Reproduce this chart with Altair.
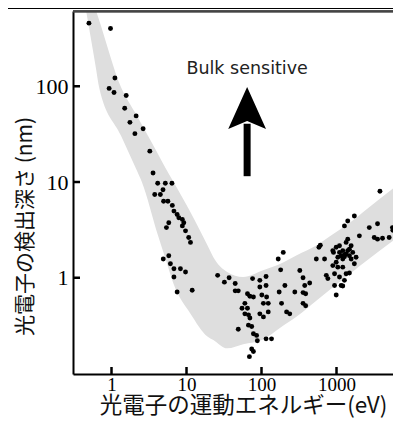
import altair as alt
import pandas as pd

# ---- data ----
energy = [0.50, 0.97, 1.11, 0.93, 1.08, 1.57, 1.50, 2.13, 1.76, 2.05, 2.64, 3.24, 3.58, 4.13, 5.22,
          6.39, 3.77, 4.48, 4.86, 4.95, 5.65, 6.47, 6.8, 7.5, 7.9, 8.8, 9.2, 8.8, 9.7, 5.8, 5.4,
          10.7, 11.3, 4.9, 5.8, 6.1, 6.8, 8.3, 9.7, 6.8, 7.5, 11.9,
          26, 32, 37, 44.6, 44.6, 49, 49, 65, 70, 78, 60, 55, 65, 60, 67, 70, 67, 74, 78, 86, 88,
          115, 136, 74, 78, 69, 76, 95, 115, 95, 115, 101, 117, 123, 106, 95, 106, 123,
          167, 195, 180, 205, 172, 185, 216, 238, 278, 324, 358, 377, 358, 388, 439, 358, 388,
          583, 608, 538, 693, 731, 767,
          893, 991, 1096, 1212, 1276, 1343, 1486, 1412, 1567, 1645, 1824, 1567, 1730, 2018, 1730,
          1412, 1276, 893, 1041, 1212, 942, 1096, 1343, 1486, 1276, 1153, 942, 1212, 991, 1041,
          1153, 1276, 912, 991, 1096, 1343, 1412, 1212, 1486,
          2735, 3524, 3184, 3524, 4105, 5035, 5570, 5650, 3795]
depth = [456, 401, 122, 95, 86, 80, 59, 49, 42, 32, 36, 21, 12.4, 9.7, 9.7,
         9.7, 7.4, 7.4, 8.3, 6.3, 6.3, 5.7, 4.97, 4.58, 4.24, 4.07, 3.76, 3.48, 3.09, 3.76, 3.34,
         2.63, 2.34, 1.57, 1.70, 1.40, 1.24, 1.24, 1.15, 1.02, 0.71, 0.74,
         1.06, 0.90, 1.0, 0.87, 0.73, 0.73, 0.29, 0.68, 0.64, 0.63, 0.54, 0.48, 0.48, 0.42, 0.41,
         0.38, 0.32, 0.31, 0.26, 0.25, 0.22,
         0.23, 0.23, 0.18, 0.17, 0.15, 0.98, 0.94, 1.03, 0.80, 0.83, 0.66, 0.63, 0.54, 0.54, 0.42,
         0.39, 0.44,
         1.57, 1.84, 1.21, 0.83, 0.71, 0.54, 0.44, 0.42, 0.71, 1.19, 1.0, 0.83, 0.70, 0.68, 0.88,
         0.54, 0.51,
         2.08, 2.19, 1.57, 1.57, 1.06, 0.98,
         1.92, 2.08, 2.16, 1.92, 1.74, 2.34, 1.99, 2.53, 2.16, 1.84, 1.64, 1.57, 1.40, 2.74, 4.41,
         3.92, 3.48, 1.34, 1.29, 1.29, 1.10, 1.02, 1.10, 1.12, 0.94, 0.83, 0.83, 0.82, 0.66, 1.64,
         1.70, 1.66, 1.84, 1.45, 1.84, 1.77, 1.92, 1.57, 1.70,
         3.34, 3.67, 2.63, 2.53, 2.59, 2.63, 3.34, 3.13, 8.0]

band_energy = [0.459, 0.624, 0.683, 1.34, 2.11, 2.54, 4.13, 5.27, 6.73, 11.3, 19.0, 22.8, 34.9,
               56.9, 105, 176, 295, 543, 807, 1841, 2208, 7050]
band_upper = [1277, 611, 493, 97.9, 51.5, 39.6, 19.9, 13.9, 9.98, 4.82, 2.18, 1.64, 1.15,
              1.02, 1.20, 1.39, 1.72, 2.18, 2.70, 4.24, 4.77, 9.74]
band_lower = [611, 150, 97.9, 30.5, 13.9, 9.98, 2.83, 1.56, 0.861, 0.422, 0.244, 0.224, 0.183,
              0.202, 0.227, 0.299, 0.393, 0.580, 0.746, 1.24, 1.39, 2.76]

x_ticks = [1, 10, 100, 1000]
y_ticks = [1, 10, 100]

arrow_energy = [64.3]
arrow_tail = [11.5]
arrow_neck = [40.6]
arrow_head_mid = [59.4]

note_energy = [64.3]
note_depth = [133]
note_text = ["Bulk sensitive"]

x_title = "光電子の運動エネルギー(eV)"
y_title = "光電子の検出深さ (nm)"

# plot area 320 x 363; whole SVG 385 x 410 so the page (with its 8px margins) fits 401 x 426
W, H = 320, 363
xs = alt.Scale(type="log", domain=[0.3066, 5666], nice=False)
ys = alt.Scale(type="log", domain=[0.0988, 611], nice=False)

x_axis = alt.Axis(
    values=x_ticks, format="~g", ticks=False, grid=False,
    domainColor="black", domainWidth=2,
    labelFont="Liberation Serif", labelFontSize=19, labelColor="black",
    labelPadding=1, labelFlush=False, labelOverlap=False,
    title=x_title, titleFont="Noto Sans CJK JP", titleFontSize=22.5,
    titleFontWeight="normal", titleColor="#111111",
    titleX=170, titleY=31, titleAlign="center", titleBaseline="middle")
y_axis = alt.Axis(
    values=y_ticks, format="~g", ticks=False, grid=False,
    domainColor="black", domainWidth=2,
    labelFont="Liberation Serif", labelFontSize=22, labelColor="black",
    labelPadding=5, labelFlush=False, labelOverlap=False,
    title=y_title, titleFont="Noto Sans CJK JP", titleFontSize=21,
    titleFontWeight="normal", titleColor="#111111", titleAngle=270,
    titleX=-48, titleY=215, titleAlign="center", titleBaseline="middle")


def X(field):
    return alt.X(field, scale=xs, axis=x_axis)


def Y(field):
    return alt.Y(field, scale=ys, axis=y_axis)


pts = pd.DataFrame({"E": energy, "d": depth})
band = pd.DataFrame({"E": band_energy, "hi": band_upper, "lo": band_lower})
xt = pd.DataFrame({"v": x_ticks})
yt = pd.DataFrame({"v": y_ticks})
arrow = pd.DataFrame({"E": arrow_energy, "a": arrow_tail, "b": arrow_neck, "m": arrow_head_mid})
note = pd.DataFrame({"E": note_energy, "d": note_depth, "t": note_text})

band_layer = alt.Chart(band).mark_area(color="#dedede", interpolate="monotone", clip=True).encode(
    x=X("E:Q"), y=Y("hi:Q"), y2="lo:Q",
)

points = alt.Chart(pts).mark_circle(color="black", size=24, opacity=1, clip=True).encode(
    x=X("E:Q"), y=Y("d:Q"),
)

xtick_layer = alt.Chart(xt).mark_rule(color="black", strokeWidth=2.5).encode(
    x=X("v:Q"), y=alt.value(H), y2=alt.value(H - 7),
)
ytick_layer = alt.Chart(yt).mark_rule(color="black", strokeWidth=2.5).encode(
    y=Y("v:Q"), x=alt.value(0), x2=alt.value(7),
)

frame_top = alt.Chart(xt).mark_rule(color="#444444", strokeWidth=1.8).encode(
    x=alt.value(0), x2=alt.value(W), y=alt.value(0.3),
)
page_line = alt.Chart(xt).mark_rule(color="black", strokeWidth=1.4).encode(
    x=alt.value(-65), x2=alt.value(W), y=alt.value(-2.6),
)

shaft = alt.Chart(arrow).mark_rule(color="black", strokeWidth=7).encode(
    x=X("E:Q"), y=Y("a:Q"), y2="b:Q",
)
head = alt.Chart(arrow).mark_point(
    shape="M0,-1L0.9,1L0,0.62L-0.9,1Z", filled=True, color="black",
    size=1764, opacity=1, strokeWidth=0,
).encode(x=X("E:Q"), y=Y("m:Q"))

text = alt.Chart(note).mark_text(
    font="DejaVu Sans", fontSize=17.5, color="#222222", align="center", baseline="alphabetic"
).encode(x=X("E:Q"), y=Y("d:Q"), text="t:N")

chart = alt.layer(
    band_layer, points, xtick_layer, ytick_layer, frame_top, page_line, shaft, head, text
).properties(
    width=W, height=H,
    autosize=alt.AutoSizeParams(type="none"),
    padding={"left": 65, "top": 3, "right": 0, "bottom": 44},
    background="white",
).configure_view(stroke="transparent")

chart.save("out.html", embed_options={"renderer": "svg", "actions": False})
